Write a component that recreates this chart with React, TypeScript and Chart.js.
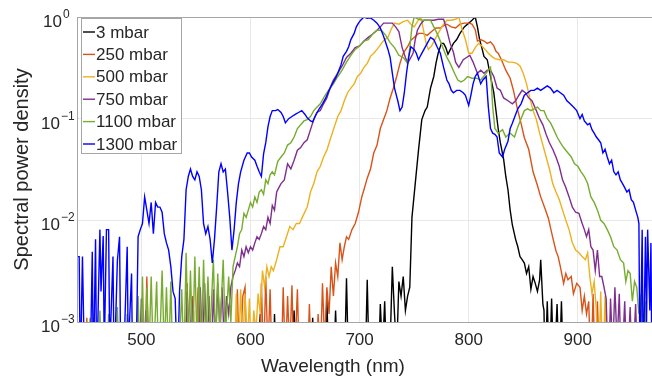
import { useEffect, useRef } from 'react';
import { Chart, registerables } from 'chart.js';

Chart.register(...registerables);

const FONT = '"Liberation Sans", Arial, Helvetica, sans-serif';
const TEXT = '#262626';

const xTicks = [500, 600, 700, 800, 900];
const yTicks = [0.001, 0.01, 0.1, 1];
const labels = ['3 mbar', '250 mbar', '500 mbar', '750 mbar', '1100 mbar', '1300 mbar'];
const colors = ['#000000', '#D95319', '#EDB120', '#7E2F8E', '#77AC30', '#0000FF'];

// [wavelength nm, spectral power density]
const p3: number[][] = [
  [605,0.0003],[609,0.0012],[611,0.0003],[621,0.0003],[622,0.0012],[624,0.0003],[636,0.0003],[640,0.0013],[642,0.0003],
  [655,0.0003],[657,0.0011],[659,0.0003],[668,0.0003],[670,0.0017],[672,0.0003],[676,0.0003],[678,0.0013],[680,0.0003],
  [686,0.0003],[688,0.0027],[690,0.0003],[705,0.0003],[707,0.0026],[709,0.0003],[717,0.0003],[719,0.0015],[721,0.0005],
  [723,0.0016],[725,0.0003],[728,0.0006],[730,0.0035],[732,0.0012],[734,0.0005],[736,0.0025],[738,0.0018],[740,0.0028],
  [742,0.0013],[744,0.0018],[746,0.0022],[748,0.0107],[751,0.023],[754,0.049],[757,0.098],[760,0.12],[762,0.13],[765,0.2],
  [768,0.26],[770,0.35],[772,0.44],[775,0.55],[777,0.55],[779,0.5],[781,0.43],[784,0.5],[786,0.55],[789,0.6],[792,0.69],
  [796,0.8],[800,0.87],[803,0.93],[806,1.0],[808,0.8],[810,0.6],[812,0.5],[814,0.41],[817,0.38],[820,0.26],[823,0.18],
  [825,0.12],[827,0.08],[829,0.058],[832,0.04],[834,0.027],[836,0.02],[838,0.0126],[840,0.009],[843,0.0065],[845,0.0055],
  [847,0.0044],[849,0.0041],[851,0.0038],[853,0.003],[855,0.0035],[857,0.0021],[859,0.0028],[861,0.0024],[863,0.002],
  [865,0.0026],[866,0.0041],[868,0.0015],[869,0.0013],[870,0.0003],[872,0.0016],[874,0.0003],[876,0.0017],[878,0.0003],
  [881,0.0015],[883,0.0003],[885,0.0016],[887,0.0003],[890,0.0003],
];

const p250: number[][] = [
  [440,0.0003],[449,0.0003],[450,0.0011],[451,0.0003],[503,0.0003],[505,0.0028],[507,0.0003],[540,0.0003],[542,0.0024],
  [544,0.0003],[547,0.0018],[549,0.0003],[552,0.0022],[554,0.0003],[586,0.0003],[588,0.0021],[590,0.0003],[593,0.0018],
  [595,0.0022],[597,0.0003],[608,0.0003],[610,0.0024],[612,0.0004],[614,0.0028],[616,0.0005],[618,0.0021],[620,0.0003],
  [628,0.0003],[630,0.0022],[632,0.0004],[634,0.0018],[636,0.0005],[638,0.0023],[640,0.0003],[643,0.0021],[645,0.0003],
  [652,0.0003],[654,0.0015],[656,0.0003],[660,0.0003],[662,0.0012],[664,0.0004],[666,0.0024],[668,0.0006],[670,0.0022],
  [672,0.0012],[674,0.0035],[676,0.0018],[678,0.0038],[680,0.0028],[682,0.006],[684,0.0041],[686,0.0055],[688,0.0069],
  [690,0.0065],[693,0.0081],[696,0.0093],[699,0.012],[702,0.017],[704,0.02],[707,0.026],[710,0.032],[713,0.046],[716,0.055],
  [719,0.08],[722,0.098],[725,0.12],[728,0.16],[731,0.2],[734,0.26],[737,0.35],[740,0.44],[744,0.51],[747,0.59],[750,0.63],
  [754,0.69],[758,0.69],[762,0.66],[766,0.72],[770,0.78],[774,0.78],[777,0.82],[780,0.85],[784,0.8],[788,0.78],[792,0.85],
  [796,0.87],[800,0.87],[803,0.85],[806,0.75],[808,0.58],[811,0.6],[814,0.58],[817,0.55],[820,0.57],[823,0.52],[825,0.46],
  [827,0.44],[830,0.38],[834,0.3],[838,0.25],[841,0.19],[845,0.12],[848,0.09],[851,0.065],[855,0.05],[859,0.03],[863,0.022],
  [866,0.017],[870,0.013],[873,0.0105],[877,0.0068],[880,0.005],[882,0.0044],[884,0.0035],[887,0.0024],[889,0.003],
  [891,0.0026],[894,0.0028],[896,0.0019],[899,0.0024],[902,0.0022],[904,0.0013],[906,0.0018],[908,0.0012],[910,0.0016],
  [912,0.0003],[914,0.0019],[916,0.0003],[918,0.0016],[920,0.0003],[925,0.0003],
];

const p500: number[][] = [
  [530,0.0003],[540,0.0003],[542,0.0015],[544,0.0003],[548,0.0013],[550,0.0003],[585,0.0003],[587,0.0019],[589,0.0004],
  [591,0.0021],[593,0.0006],[595,0.0019],[597,0.0005],[599,0.0017],[601,0.0004],[603,0.0013],[605,0.0008],[607,0.0019],
  [609,0.0012],[611,0.0032],[613,0.0022],[615,0.0035],[617,0.0028],[619,0.0035],[621,0.0032],[624,0.0041],[627,0.0055],
  [630,0.0055],[633,0.0069],[636,0.0087],[639,0.0081],[642,0.0093],[645,0.0093],[648,0.011],[652,0.0135],[655,0.019],
  [658,0.023],[661,0.03],[664,0.034],[667,0.042],[670,0.049],[673,0.062],[676,0.078],[680,0.105],[683,0.12],[686,0.15],
  [689,0.18],[692,0.2],[695,0.22],[698,0.26],[701,0.28],[704,0.32],[707,0.35],[710,0.41],[713,0.44],[716,0.48],[720,0.55],
  [723,0.6],[726,0.63],[729,0.76],[732,0.87],[736,0.85],[740,0.9],[744,0.93],[747,0.85],[750,0.8],[753,0.9],[756,1.0],
  [758,0.8],[761,0.55],[763,0.48],[766,0.52],[769,0.6],[772,0.69],[776,0.82],[780,0.93],[784,0.93],[788,0.95],[791,1.0],
  [794,0.75],[797,0.6],[800,0.44],[803,0.44],[806,0.5],[809,0.55],[812,0.52],[815,0.48],[818,0.44],[821,0.41],[824,0.39],
  [828,0.38],[832,0.38],[836,0.36],[840,0.36],[844,0.35],[847,0.33],[850,0.28],[853,0.22],[856,0.16],[859,0.12],[862,0.098],
  [865,0.072],[868,0.055],[871,0.042],[874,0.032],[877,0.023],[880,0.019],[883,0.016],[886,0.0126],[889,0.01],[892,0.0081],
  [895,0.006],[898,0.0051],[901,0.0048],[904,0.0044],[907,0.0041],[909,0.0048],[911,0.0028],[913,0.0019],[915,0.0025],
  [917,0.0013],[919,0.0003],[921,0.002],[923,0.0003],[925,0.0018],[927,0.0003],[930,0.0003],
];

const p750: number[][] = [
  [440,0.0003],[498,0.0003],[500,0.0017],[502,0.0003],[504,0.0013],[506,0.0003],[540,0.0003],[542,0.002],[544,0.0003],
  [546,0.0017],[548,0.0005],[552,0.0003],[554,0.0022],[556,0.0005],[558,0.0024],[560,0.0004],[562,0.0018],[564,0.0003],
  [566,0.0021],[568,0.0006],[570,0.0024],[572,0.0008],[574,0.0022],[576,0.0006],[578,0.0018],[580,0.0012],[582,0.0022],
  [584,0.0028],[586,0.0032],[588,0.0038],[590,0.0035],[592,0.0051],[594,0.0044],[596,0.0055],[598,0.0048],[600,0.0055],
  [602,0.0051],[604,0.006],[606,0.0069],[608,0.0065],[610,0.0074],[612,0.0087],[614,0.0081],[616,0.0107],[618,0.0093],
  [620,0.014],[622,0.0126],[624,0.019],[626,0.021],[628,0.023],[631,0.025],[634,0.036],[637,0.032],[640,0.039],[643,0.049],
  [646,0.052],[649,0.058],[652,0.062],[655,0.078],[658,0.098],[661,0.115],[664,0.12],[667,0.14],[670,0.16],[673,0.2],
  [676,0.24],[680,0.28],[684,0.33],[688,0.4],[692,0.44],[696,0.5],[700,0.52],[704,0.58],[708,0.63],[712,0.68],[716,0.74],
  [719,0.8],[722,0.87],[726,0.87],[730,0.87],[733,0.8],[736,0.72],[739,0.5],[742,0.4],[744,0.35],[747,0.4],[749,0.44],
  [751,0.6],[753,0.74],[756,0.85],[759,0.93],[764,0.93],[768,0.93],[772,0.95],[777,0.95],[780,0.74],[783,0.55],[786,0.45],
  [788,0.36],[791,0.32],[795,0.38],[798,0.4],[801,0.42],[804,0.36],[808,0.28],[811,0.3],[814,0.28],[817,0.3],[820,0.3],
  [823,0.26],[826,0.2],[829,0.19],[832,0.16],[836,0.15],[840,0.14],[843,0.15],[846,0.17],[849,0.19],[852,0.18],[855,0.16],
  [858,0.15],[862,0.12],[865,0.1],[868,0.087],[871,0.07],[874,0.058],[877,0.05],[880,0.042],[883,0.034],[886,0.025],
  [889,0.021],[892,0.017],[895,0.0135],[898,0.012],[901,0.0117],[904,0.0093],[906,0.0081],[908,0.0069],[910,0.0081],
  [912,0.0055],[914,0.0051],[916,0.0032],[918,0.0051],[920,0.0028],[922,0.0028],[924,0.0022],[926,0.0017],[928,0.0003],
  [930,0.0017],[932,0.0005],[934,0.0022],[936,0.0006],[938,0.0019],[940,0.0003],[943,0.0016],[945,0.0003],[948,0.0014],
  [950,0.0003],[953,0.0015],[955,0.0003],[960,0.0003],
];

const p1100: number[][] = [
  [441,0.0013],[443,0.0003],[450,0.0003],[453,0.0011],[455,0.0003],[460,0.0003],[462,0.0013],[464,0.0003],[468,0.0003],
  [470,0.0012],[472,0.0003],[476,0.0003],[478,0.0014],[480,0.0003],[485,0.0003],[487,0.0012],[489,0.0003],[495,0.0003],
  [497,0.0018],[499,0.0003],[501,0.0028],[503,0.0003],[505,0.0022],[507,0.0005],[509,0.0028],[511,0.0004],[514,0.0025],
  [516,0.0003],[519,0.0032],[521,0.0005],[523,0.0022],[525,0.0004],[527,0.0025],[529,0.0003],[534,0.0003],[537,0.0021],
  [539,0.0004],[541,0.0048],[543,0.0006],[545,0.0032],[547,0.0005],[549,0.0044],[551,0.0006],[553,0.0035],[555,0.0005],
  [557,0.0041],[559,0.0006],[561,0.0028],[563,0.0008],[566,0.0041],[568,0.0006],[570,0.003],[572,0.0008],[575,0.0041],
  [577,0.0007],[580,0.0028],[582,0.001],[584,0.0035],[586,0.0044],[588,0.0055],[590,0.0074],[592,0.0081],[594,0.0117],
  [596,0.0107],[598,0.0126],[600,0.015],[602,0.0135],[604,0.017],[606,0.015],[608,0.019],[610,0.02],[612,0.018],[614,0.025],
  [616,0.023],[618,0.028],[620,0.03],[622,0.028],[625,0.038],[628,0.042],[631,0.046],[634,0.055],[637,0.058],[640,0.066],
  [643,0.08],[646,0.087],[649,0.095],[652,0.098],[655,0.105],[658,0.12],[661,0.13],[664,0.14],[667,0.16],[670,0.18],
  [673,0.2],[676,0.22],[680,0.26],[684,0.3],[688,0.36],[692,0.42],[696,0.48],[700,0.52],[704,0.58],[708,0.6],[712,0.68],
  [716,0.74],[720,0.74],[724,0.66],[728,0.56],[732,0.5],[736,0.42],[740,0.4],[744,0.35],[746,0.5],[748,0.8],[750,1.0],
  [754,0.95],[758,0.93],[762,0.93],[765,0.93],[768,0.8],[771,0.69],[774,0.58],[777,0.48],[780,0.4],[783,0.35],[787,0.28],
  [790,0.24],[793,0.23],[796,0.24],[799,0.26],[803,0.25],[807,0.25],[811,0.24],[815,0.27],[818,0.3],[820,0.32],[822,0.13],
  [824,0.08],[827,0.072],[831,0.078],[834,0.066],[838,0.072],[842,0.066],[845,0.083],[848,0.1],[851,0.12],[854,0.125],
  [857,0.12],[860,0.125],[863,0.13],[866,0.12],[869,0.12],[872,0.1],[875,0.091],[878,0.078],[881,0.066],[884,0.058],
  [887,0.052],[891,0.046],[894,0.042],[897,0.036],[900,0.034],[903,0.03],[906,0.027],[909,0.023],[912,0.017],[915,0.015],
  [918,0.0126],[921,0.01],[924,0.0093],[927,0.0081],[930,0.0069],[933,0.0055],[936,0.0051],[939,0.0041],[942,0.0038],
  [944,0.0025],[946,0.0032],[948,0.003],[950,0.0016],[952,0.0025],[954,0.0022],[956,0.0012],[958,0.0019],[960,0.0003],
  [962,0.0016],[964,0.0003],[967,0.0003],
];

const p1300: number[][] = [
  [441,0.0044],[443,0.0044],[444,0.0003],[446,0.0044],[448,0.0003],[453,0.0003],[455,0.0049],[456,0.0003],[458,0.0065],
  [459,0.0003],[462,0.0081],[463,0.002],[465,0.007],[466,0.0005],[468,0.0081],[470,0.0081],[471,0.0005],[474,0.0044],
  [475,0.0003],[478,0.004],[480,0.0069],[481,0.0005],[484,0.0005],[487,0.0055],[488,0.0005],[491,0.003],[492,0.0003],
  [495,0.0003],[497,0.0069],[499,0.0081],[501,0.0093],[503,0.017],[505,0.0126],[507,0.0093],[509,0.015],[511,0.0074],
  [513,0.015],[515,0.0135],[517,0.0135],[519,0.012],[521,0.0074],[523,0.006],[525,0.0051],[527,0.0035],[529,0.002],
  [531,0.0017],[533,0.0003],[535,0.002],[537,0.0044],[539,0.0065],[541,0.02],[543,0.027],[545,0.032],[547,0.027],[549,0.025],
  [551,0.03],[553,0.027],[555,0.02],[557,0.0093],[559,0.0074],[561,0.0087],[563,0.0065],[565,0.0038],[567,0.0065],
  [569,0.0135],[571,0.03],[573,0.036],[575,0.03],[577,0.032],[579,0.019],[581,0.0107],[583,0.0051],[585,0.0081],[587,0.015],
  [589,0.023],[591,0.03],[594,0.039],[597,0.046],[599,0.046],[601,0.042],[604,0.039],[606,0.034],[608,0.03],[610,0.027],
  [612,0.045],[614,0.058],[616,0.083],[618,0.105],[620,0.12],[623,0.12],[625,0.123],[628,0.115],[630,0.105],[632,0.091],
  [635,0.1],[638,0.105],[641,0.11],[644,0.115],[647,0.12],[650,0.11],[652,0.102],[655,0.095],[657,0.093],[660,0.11],
  [663,0.125],[666,0.14],[669,0.16],[672,0.19],[675,0.22],[678,0.25],[680,0.28],[683,0.34],[685,0.41],[688,0.46],[690,0.51],
  [692,0.6],[695,0.69],[697,0.8],[699,0.87],[701,0.93],[704,1.0],[707,0.97],[710,0.98],[713,0.93],[716,0.87],[719,0.78],
  [721,0.69],[723,0.6],[726,0.48],[728,0.4],[730,0.28],[732,0.2],[735,0.15],[737,0.12],[739,0.13],[741,0.18],[743,0.28],
  [745,0.4],[747,0.51],[750,0.48],[752,0.44],[754,0.38],[756,0.42],[759,0.48],[762,0.55],[765,0.63],[768,0.6],[771,0.51],
  [774,0.44],[777,0.32],[780,0.24],[782,0.22],[784,0.19],[786,0.18],[789,0.19],[792,0.19],[795,0.18],[797,0.17],[800,0.135],
  [802,0.17],[804,0.22],[806,0.26],[808,0.28],[811,0.22],[813,0.24],[816,0.26],[818,0.13],[820,0.08],[822,0.072],[824,0.07],
  [826,0.066],[828,0.046],[831,0.042],[833,0.05],[836,0.06],[838,0.08],[840,0.09],[843,0.11],[845,0.125],[848,0.14],
  [851,0.17],[854,0.18],[857,0.19],[860,0.19],[863,0.2],[866,0.19],[869,0.2],[872,0.21],[875,0.2],[878,0.18],[881,0.19],
  [884,0.18],[887,0.17],[890,0.15],[893,0.14],[896,0.13],[899,0.12],[902,0.1],[904,0.11],[906,0.095],[909,0.087],[911,0.09],
  [913,0.078],[915,0.072],[917,0.066],[919,0.062],[921,0.058],[923,0.046],[925,0.05],[927,0.042],[929,0.036],[931,0.039],
  [933,0.03],[935,0.028],[937,0.03],[939,0.025],[941,0.023],[943,0.021],[945,0.019],[947,0.02],[949,0.016],[951,0.015],
  [953,0.0126],[955,0.0107],[956,0.0093],[957,0.0003],[959,0.0081],[960,0.0003],[962,0.0069],[963,0.001],[964,0.0081],
  [966,0.0013],[967,0.006],[968,0.0003],
];

const seriesData = [p3, p250, p500, p750, p1100, p1300];

const decor = {
  id: 'decor',
  afterDatasetsDraw(chart: any) {
    const ctx = chart.ctx;
    const ca = chart.chartArea;
    ctx.save();
    // axes frame
    ctx.strokeStyle = '#a6a6a6';
    ctx.lineWidth = 1;
    ctx.beginPath();
    ctx.moveTo(ca.left + 0.5, ca.top + 0.5);
    ctx.lineTo(ca.right, ca.top + 0.5);
    ctx.moveTo(ca.left + 0.5, ca.top);
    ctx.lineTo(ca.left + 0.5, ca.bottom + 0.5);
    ctx.lineTo(ca.right, ca.bottom + 0.5);
    ctx.stroke();
    // legend
    const lx = ca.left + 4, ly = ca.top + 1, lw = 100, lh = 135;
    ctx.fillStyle = '#ffffff';
    ctx.fillRect(lx, ly, lw, lh);
    ctx.strokeStyle = '#a6a6a6';
    ctx.strokeRect(lx + 0.5, ly + 0.5, lw, lh);
    ctx.font = `17px ${FONT}`;
    ctx.textBaseline = 'middle';
    ctx.textAlign = 'left';
    labels.forEach((lab, i) => {
      const y = ly + 14 + i * 22.4;
      ctx.strokeStyle = colors[i];
      ctx.lineWidth = 1.4;
      ctx.beginPath();
      ctx.moveTo(lx + 2, y);
      ctx.lineTo(lx + 14, y);
      ctx.stroke();
      ctx.fillStyle = TEXT;
      ctx.fillText(lab, lx + 15, y + 1);
    });
    // y tick labels with superscripts
    const ys = chart.scales.y;
    ys.ticks.forEach((t: any) => {
      const py = ys.getPixelForValue(t.value);
      const e = Math.round(Math.log10(t.value));
      const shift = e === 0 ? 2 : 0;
      ctx.fillStyle = TEXT;
      ctx.textBaseline = 'alphabetic';
      ctx.font = `17px ${FONT}`;
      ctx.textAlign = 'right';
      ctx.fillText('10', ca.left - 17 + shift, py + 10);
      ctx.font = `12px ${FONT}`;
      ctx.textAlign = 'left';
      ctx.fillText(e === 0 ? '0' : '\u2212' + Math.abs(e), ca.left - 16 + shift, py + 1);
    });
    // axis titles
    ctx.font = `19px ${FONT}`;
    ctx.textAlign = 'center';
    ctx.textBaseline = 'middle';
    ctx.fillText('Wavelength (nm)', ca.left + (ca.right - ca.left) * 0.445, 367);
    ctx.font = `20px ${FONT}`;
    ctx.translate(22, (ca.top + ca.bottom) / 2);
    ctx.rotate(-Math.PI / 2);
    ctx.fillText('Spectral power density', 0, 0);
    ctx.restore();
  },
};

export default function App() {
  const ref = useRef<HTMLCanvasElement>(null);
  useEffect(() => {
    if (!ref.current) return;
    const chart = new Chart(ref.current, {
      type: 'line',
      data: {
        datasets: seriesData.map((d, i) => ({
          label: labels[i],
          data: d.map(([x, y]) => ({ x, y })),
          borderColor: colors[i],
          backgroundColor: colors[i],
          borderWidth: 1.4,
          pointRadius: 0,
          fill: false,
          tension: 0,
          order: seriesData.length - i,
          clip: 0,
        })),
      },
      options: {
        responsive: false,
        animation: false,
        events: [],
        layout: { padding: { top: 17, left: 0, right: 0, bottom: 0 } },
        plugins: { legend: { display: false }, tooltip: { enabled: false } },
        scales: {
          x: {
            type: 'linear',
            min: 441,
            max: 968,
            afterBuildTicks: (s: any) => { s.ticks = xTicks.map((v) => ({ value: v })); },
            afterFit: (s: any) => { s.height = 59; s.paddingLeft = 0; s.paddingRight = 0; },
            grid: { color: '#e8e8e8', drawTicks: false },
            border: { display: false },
            ticks: {
              font: { family: FONT, size: 17 },
              color: TEXT,
              padding: 8,
              maxRotation: 0,
              autoSkip: false,
              callback: (v: any) => String(v),
            },
          },
          y: {
            type: 'logarithmic',
            min: 0.001,
            max: 1,
            afterBuildTicks: (s: any) => { s.ticks = yTicks.map((v) => ({ value: v })); },
            afterFit: (s: any) => { s.width = 77; s.paddingTop = 0; s.paddingBottom = 0; },
            grid: { color: '#e8e8e8', drawTicks: false },
            border: { display: false },
            ticks: { display: false },
          },
        },
      } as any,
      plugins: [decor],
    });
    return () => chart.destroy();
  }, []);
  return (
    <div style={{ position: 'absolute', left: 0, top: 0 }}>
      <canvas ref={ref} width={652} height={381} style={{ display: 'block' }} />
    </div>
  );
}
